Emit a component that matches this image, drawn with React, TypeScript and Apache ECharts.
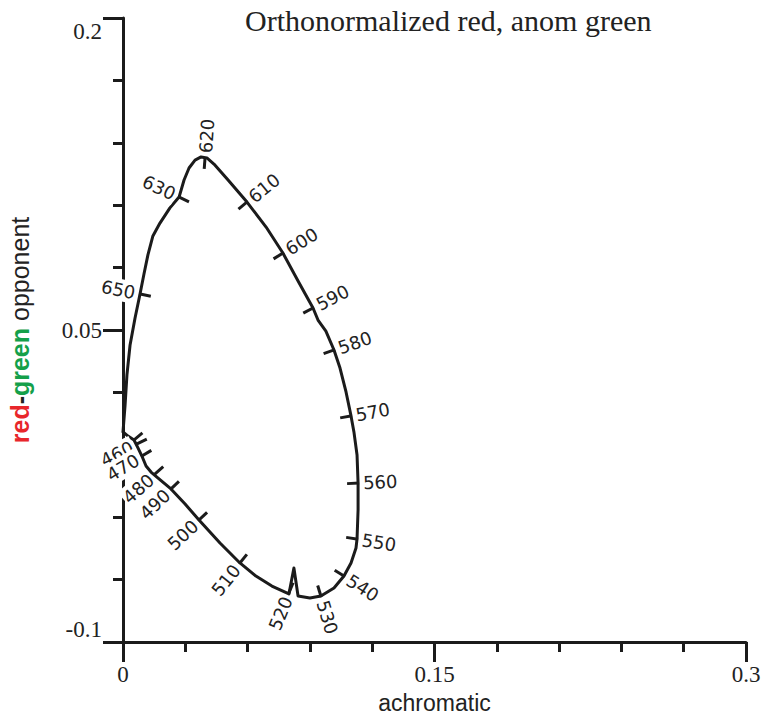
import React, { useEffect, useRef } from 'react';
import * as echarts from 'echarts';

const TITLE = 'Orthonormalized red, anom green';
const X_NAME = 'achromatic';

// Spectral locus, traced from the short-wavelength end round to the long-wavelength end
const LOCUS_X = [
  0.0, 0.0024, 0.0053, 0.0072, 0.0091, 0.0111, 0.0135, 0.0169, 0.0231, 0.0299,
  0.0366, 0.0467, 0.0563, 0.064, 0.0717, 0.0799, 0.0823, 0.0843, 0.09, 0.0953,
  0.1016, 0.1064, 0.1098, 0.1122, 0.1127, 0.1132, 0.1132, 0.1127, 0.1112, 0.1098,
  0.1074, 0.1045, 0.1016, 0.0977, 0.0939, 0.0915, 0.0843, 0.077, 0.0689, 0.0597,
  0.0506, 0.0438, 0.0404, 0.0376, 0.0347, 0.0318, 0.0294, 0.027, 0.0226, 0.0178,
  0.0144, 0.012, 0.0101, 0.0082, 0.0058, 0.0034, 0.0019, 0.001, 0.0,
];
const LOCUS_Y = [
  0.001, -0.001, -0.0029, -0.0067, -0.0106, -0.0154, -0.0183, -0.0212, -0.0264, -0.0337,
  -0.0413, -0.0524, -0.062, -0.0683, -0.0731, -0.0769, -0.0644, -0.0779, -0.0788, -0.0779,
  -0.074, -0.0683, -0.062, -0.0548, -0.0505, -0.0365, -0.0236, -0.0101, 0.001, 0.0087,
  0.0202, 0.0317, 0.0404, 0.0495, 0.0548, 0.0606, 0.0736, 0.087, 0.0995, 0.1115,
  0.1221, 0.1298, 0.1327, 0.1332, 0.1317, 0.1279, 0.1221, 0.1139, 0.1087, 0.1014,
  0.0952, 0.0861, 0.0769, 0.0673, 0.0558, 0.0428, 0.0284, 0.0139, 0.001,
];

// Wavelength marks (nm) on the locus
const TICK_NM = [450, 460, 470, 480, 490, 500, 510, 520, 530, 540, 550, 560, 570, 580, 590, 600, 610, 620, 630, 650];
const TICK_X = [
  0.0053, 0.0067, 0.0091, 0.0154, 0.0231, 0.0366, 0.0563, 0.0799, 0.0953, 0.1064,
  0.1127, 0.1132, 0.1098, 0.1016, 0.0915, 0.077, 0.0597, 0.0395, 0.027, 0.0082,
];
const TICK_Y = [
  -0.0029, -0.0048, -0.0106, -0.0192, -0.0264, -0.0413, -0.062, -0.0764, -0.0779, -0.0683,
  -0.0505, -0.0236, 0.0087, 0.0404, 0.0606, 0.087, 0.1115, 0.1327, 0.1139, 0.0673,
];
const UNLABELLED_NM = [450];

// Axis ranges: labelled ticks every 0.15, five sub-divisions between them
const X_RANGE = [0, 0.3];
const Y_RANGE = [-0.1, 0.2];
const LABEL_STEP = 0.15;
const SUB_DIVISIONS = 5;
const X_TICK_LABELS = ['0', '0.15', '0.3'];
const Y_TICK_LABELS = ['-0.1', '0.05', '0.2'];

const INK = '#1b1b1b';
const TEXT = '#222';
const SERIF = 'Liberation Serif';
const SANS = 'Liberation Sans';
const MARK_FAMILY = 'DejaVu Sans';
const MARK_SIZE = 18;
const NUM_SIZE = 23;

const TICK_LEN = 11;
const LABEL_GAP = 4;

function renderMark(params: any, api: any) {
  const i = params.dataIndex;
  const p = api.coord([TICK_X[i], TICK_Y[i]]);
  let a: number[];
  let b: number[];
  if (i > 0 && i < TICK_NM.length - 1) {
    a = api.coord([TICK_X[i - 1], TICK_Y[i - 1]]);
    b = api.coord([TICK_X[i + 1], TICK_Y[i + 1]]);
  } else {
    // end marks: direction from the locus vertices around the nearest one
    let k = 0;
    let best = Infinity;
    for (let j = 0; j < LOCUS_X.length; j++) {
      const q = api.coord([LOCUS_X[j], LOCUS_Y[j]]);
      const d = (q[0] - p[0]) ** 2 + (q[1] - p[1]) ** 2;
      if (d < best) {
        best = d;
        k = j;
      }
    }
    const k0 = Math.max(k - 1, 0);
    const k1 = Math.min(k + 1, LOCUS_X.length - 1);
    a = api.coord([LOCUS_X[k0], LOCUS_Y[k0]]);
    b = api.coord([LOCUS_X[k1], LOCUS_Y[k1]]);
  }
  let tx = b[0] - a[0];
  let ty = b[1] - a[1];
  const len = Math.hypot(tx, ty) || 1;
  tx /= len;
  ty /= len;
  // outward normal (screen coordinates)
  const nx = -ty;
  const ny = tx;

  const children: any[] = [
    {
      type: 'line',
      shape: {
        x1: p[0] + nx,
        y1: p[1] + ny,
        x2: p[0] - nx * TICK_LEN,
        y2: p[1] - ny * TICK_LEN,
      },
      style: { stroke: INK, lineWidth: 3 },
    },
  ];

  const nm = TICK_NM[i];
  if (UNLABELLED_NM.indexOf(nm) < 0) {
    const phi = Math.atan2(-ny, nx);
    let rot = phi;
    let align = 'left';
    if (phi > Math.PI / 2) {
      rot = phi - Math.PI;
      align = 'right';
    } else if (phi <= -Math.PI / 2) {
      rot = phi + Math.PI;
      align = 'right';
    }
    children.push({
      type: 'text',
      x: p[0] + nx * LABEL_GAP,
      y: p[1] + ny * LABEL_GAP,
      rotation: rot,
      style: {
        text: String(nm),
        x: 0,
        y: 0,
        align,
        verticalAlign: 'middle',
        fontFamily: MARK_FAMILY,
        fontSize: MARK_SIZE,
        fill: TEXT,
        backgroundColor: '#fff',
        padding: [2, 1],
      },
    });
  }
  return { type: 'group', children };
}

export default function App() {
  const ref = useRef<HTMLDivElement>(null);

  useEffect(() => {
    if (!ref.current) return;
    const chart = echarts.init(ref.current, null, { renderer: 'svg' });

    const axisLine = { show: true, onZero: false, lineStyle: { color: INK, width: 3 } };
    const tickStyle = { color: INK, width: 3 };
    const axisTick = { show: true, length: 20, lineStyle: tickStyle };
    const minorTick = { show: true, splitNumber: SUB_DIVISIONS, length: 10, lineStyle: tickStyle };

    chart.setOption({
      animation: false,
      backgroundColor: '#fff',
      title: {
        text: TITLE,
        left: 245,
        top: 5,
        padding: 0,
        textStyle: { fontFamily: SERIF, fontSize: 30, fontWeight: 'normal', color: TEXT },
      },
      grid: { left: 123, right: 23, top: 18, bottom: 75, containLabel: false, outerBoundsMode: 'none' },
      xAxis: {
        type: 'value',
        min: X_RANGE[0],
        max: X_RANGE[1],
        interval: LABEL_STEP,
        position: 'bottom',
        axisLine,
        axisTick,
        minorTick,
        axisLabel: { show: false },
        splitLine: { show: false },
        minorSplitLine: { show: false },
        name: X_NAME,
        nameLocation: 'middle',
        nameGap: 49,
        nameTextStyle: { fontFamily: SANS, fontSize: 23, color: TEXT },
      },
      yAxis: {
        type: 'value',
        min: Y_RANGE[0],
        max: Y_RANGE[1],
        interval: LABEL_STEP,
        position: 'left',
        axisLine,
        axisTick,
        minorTick,
        axisLabel: { show: false },
        splitLine: { show: false },
        minorSplitLine: { show: false },
        name: '{r|red}{d|-}{g|green} opponent',
        nameLocation: 'middle',
        nameGap: 91,
        nameRotate: 90,
        nameTextStyle: {
          fontFamily: SANS,
          fontSize: 25,
          color: TEXT,
          rich: {
            r: { fontFamily: SANS, fontSize: 25, fontWeight: 'bold', color: '#e8262b' },
            d: { fontFamily: SANS, fontSize: 25, fontWeight: 'bold', color: TEXT },
            g: { fontFamily: SANS, fontSize: 25, fontWeight: 'bold', color: '#14a04a' },
          },
        },
      },
      series: [
        {
          type: 'line',
          data: LOCUS_X.map((x, i) => [x, LOCUS_Y[i]]),
          showSymbol: false,
          symbol: 'none',
          silent: true,
          lineStyle: { color: INK, width: 3, join: 'round', cap: 'round' },
          z: 2,
        },
        {
          type: 'custom',
          data: TICK_NM.map((nm, i) => [TICK_X[i], TICK_Y[i], nm]),
          encode: { x: 0, y: 1 },
          renderItem: renderMark,
          clip: false,
          silent: true,
          z: 3,
        },
      ],
    });

    // Tick values, placed through the axes' own scales
    const texts: any[] = [];
    X_TICK_LABELS.forEach((t, i) => {
      const v = X_RANGE[0] + i * LABEL_STEP;
      const p = chart.convertToPixel({ gridIndex: 0 }, [v, Y_RANGE[0]]) as number[];
      texts.push({
        type: 'text',
        x: p[0],
        y: p[1] + 21,
        style: {
          text: t,
          fontFamily: SERIF,
          fontSize: NUM_SIZE,
          fill: TEXT,
          align: 'center',
          verticalAlign: 'top',
        },
      });
    });
    Y_TICK_LABELS.forEach((t, i) => {
      const v = Y_RANGE[0] + i * LABEL_STEP;
      const p = chart.convertToPixel({ gridIndex: 0 }, [X_RANGE[0], v]) as number[];
      const last = i === Y_TICK_LABELS.length - 1;
      const first = i === 0;
      texts.push({
        type: 'text',
        x: p[0] - 21,
        y: first ? p[1] - 1 : last ? p[1] + 2 : p[1],
        style: {
          text: t,
          fontFamily: SERIF,
          fontSize: NUM_SIZE,
          fill: TEXT,
          align: 'right',
          verticalAlign: first ? 'bottom' : last ? 'top' : 'middle',
        },
      });
    });
    chart.setOption({ graphic: texts });

    return () => chart.dispose();
  }, []);

  return (
    <div
      ref={ref}
      style={{ position: 'fixed', left: 0, top: 0, width: 769, height: 717, background: '#fff' }}
    />
  );
}
